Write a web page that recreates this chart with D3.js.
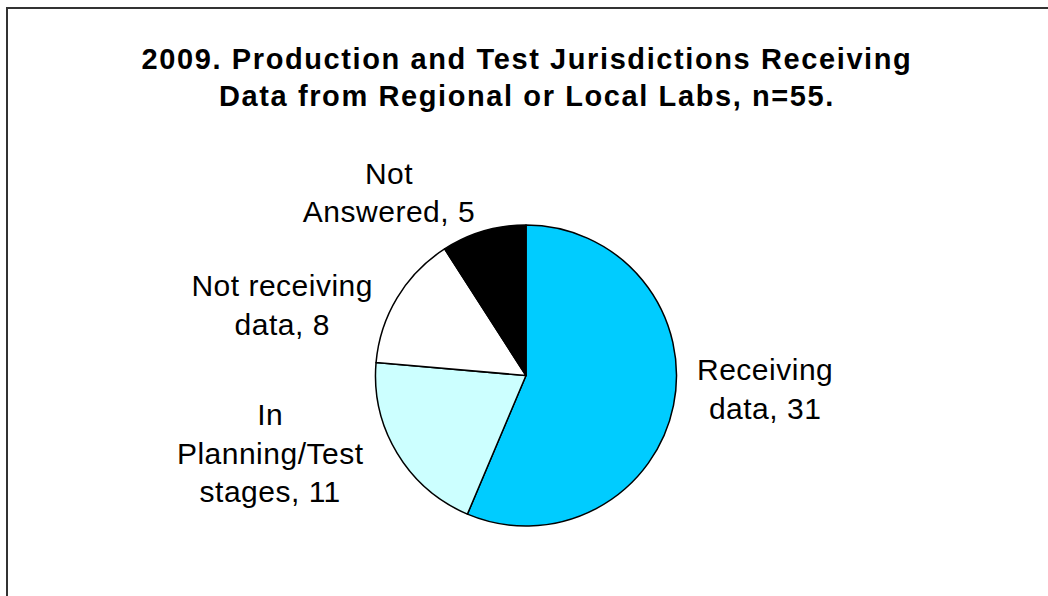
<!DOCTYPE html>
<html>
<head>
<meta charset="utf-8">
<script src="https://d3js.org/d3.v7.min.js"></script>
<style>
  body { margin: 0; background: #fff; }
  svg { display: block; }
</style>
</head>
<body>
<svg id="chart" width="1048" height="596"></svg>
<script>
// data
var titleLines = ["2009. Production and Test Jurisdictions Receiving", "Data from Regional or Local Labs, n=55."];
var categories = ["Receiving data", "In Planning/Test stages", "Not receiving data", "Not Answered"];
var counts = [31, 11, 8, 5];
var labelLines = [["Receiving", "data, 31"], ["In", "Planning/Test", "stages, 11"], ["Not receiving", "data, 8"], ["Not", "Answered, 5"]];
var sliceColors = ["#00ccff", "#ccffff", "#ffffff", "#000000"];

// label nudges (px) away from the plain outer centroid, like excel's best fit
var labelNudge = [[-1, -35], [-46, -49], [-34, 56], [-68, 52]];

var svg = d3.select("#chart"),
    width = +svg.attr("width"),
    height = +svg.attr("height"),
    cx = 526, cy = 375.5, radius = 150.5, lineH = 38.5;

// chart frame (runs off the right and bottom edge)
svg.append("rect")
    .attr("x", 7).attr("y", 8)
    .attr("width", width + 20).attr("height", height + 20)
    .attr("fill", "none")
    .attr("stroke", "#333")
    .attr("stroke-width", 2);

// title
svg.append("text")
    .attr("text-anchor", "middle")
    .style("font", "bold 29px 'Liberation Sans', Arial, sans-serif")
    .style("letter-spacing", "1.6px")
    .selectAll("tspan")
    .data(titleLines)
    .enter().append("tspan")
    .attr("x", 527)
    .attr("y", function(d, i) { return 69 + i * 37; })
    .text(function(d) { return d; });

var pie = d3.pie().sort(null).value(function(d) { return d; });
var arcs = pie(counts);

var arc = d3.arc().innerRadius(0).outerRadius(radius);
var labelArc = d3.arc().innerRadius(245).outerRadius(245);

var g = svg.append("g").attr("transform", "translate(" + cx + "," + cy + ")");

g.selectAll("path")
    .data(arcs)
    .enter().append("path")
    .attr("d", arc)
    .attr("fill", function(d, i) { return sliceColors[i]; })
    .attr("stroke", "#000")
    .attr("stroke-width", 1.5)
    .attr("stroke-linejoin", "round");

var labels = g.selectAll(".label")
    .data(arcs)
    .enter().append("text")
    .attr("class", "label")
    .attr("text-anchor", "middle")
    .style("font", "30px 'Liberation Sans', Arial, sans-serif")
    .style("letter-spacing", "0.5px")
    .attr("transform", function(d, i) {
      var c = labelArc.centroid(d);
      return "translate(" + (c[0] + labelNudge[i][0]) + "," + (c[1] + labelNudge[i][1]) + ")";
    });

labels.selectAll("tspan")
    .data(function(d, i) {
      var lines = labelLines[i];
      return lines.map(function(t, j) { return {t: t, j: j, n: lines.length}; });
    })
    .enter().append("tspan")
    .attr("x", 0)
    .attr("y", function(d) { return (d.j - (d.n - 1) / 2) * lineH + 10.5; })
    .text(function(d) { return d.t; });
</script>
</body>
</html>
